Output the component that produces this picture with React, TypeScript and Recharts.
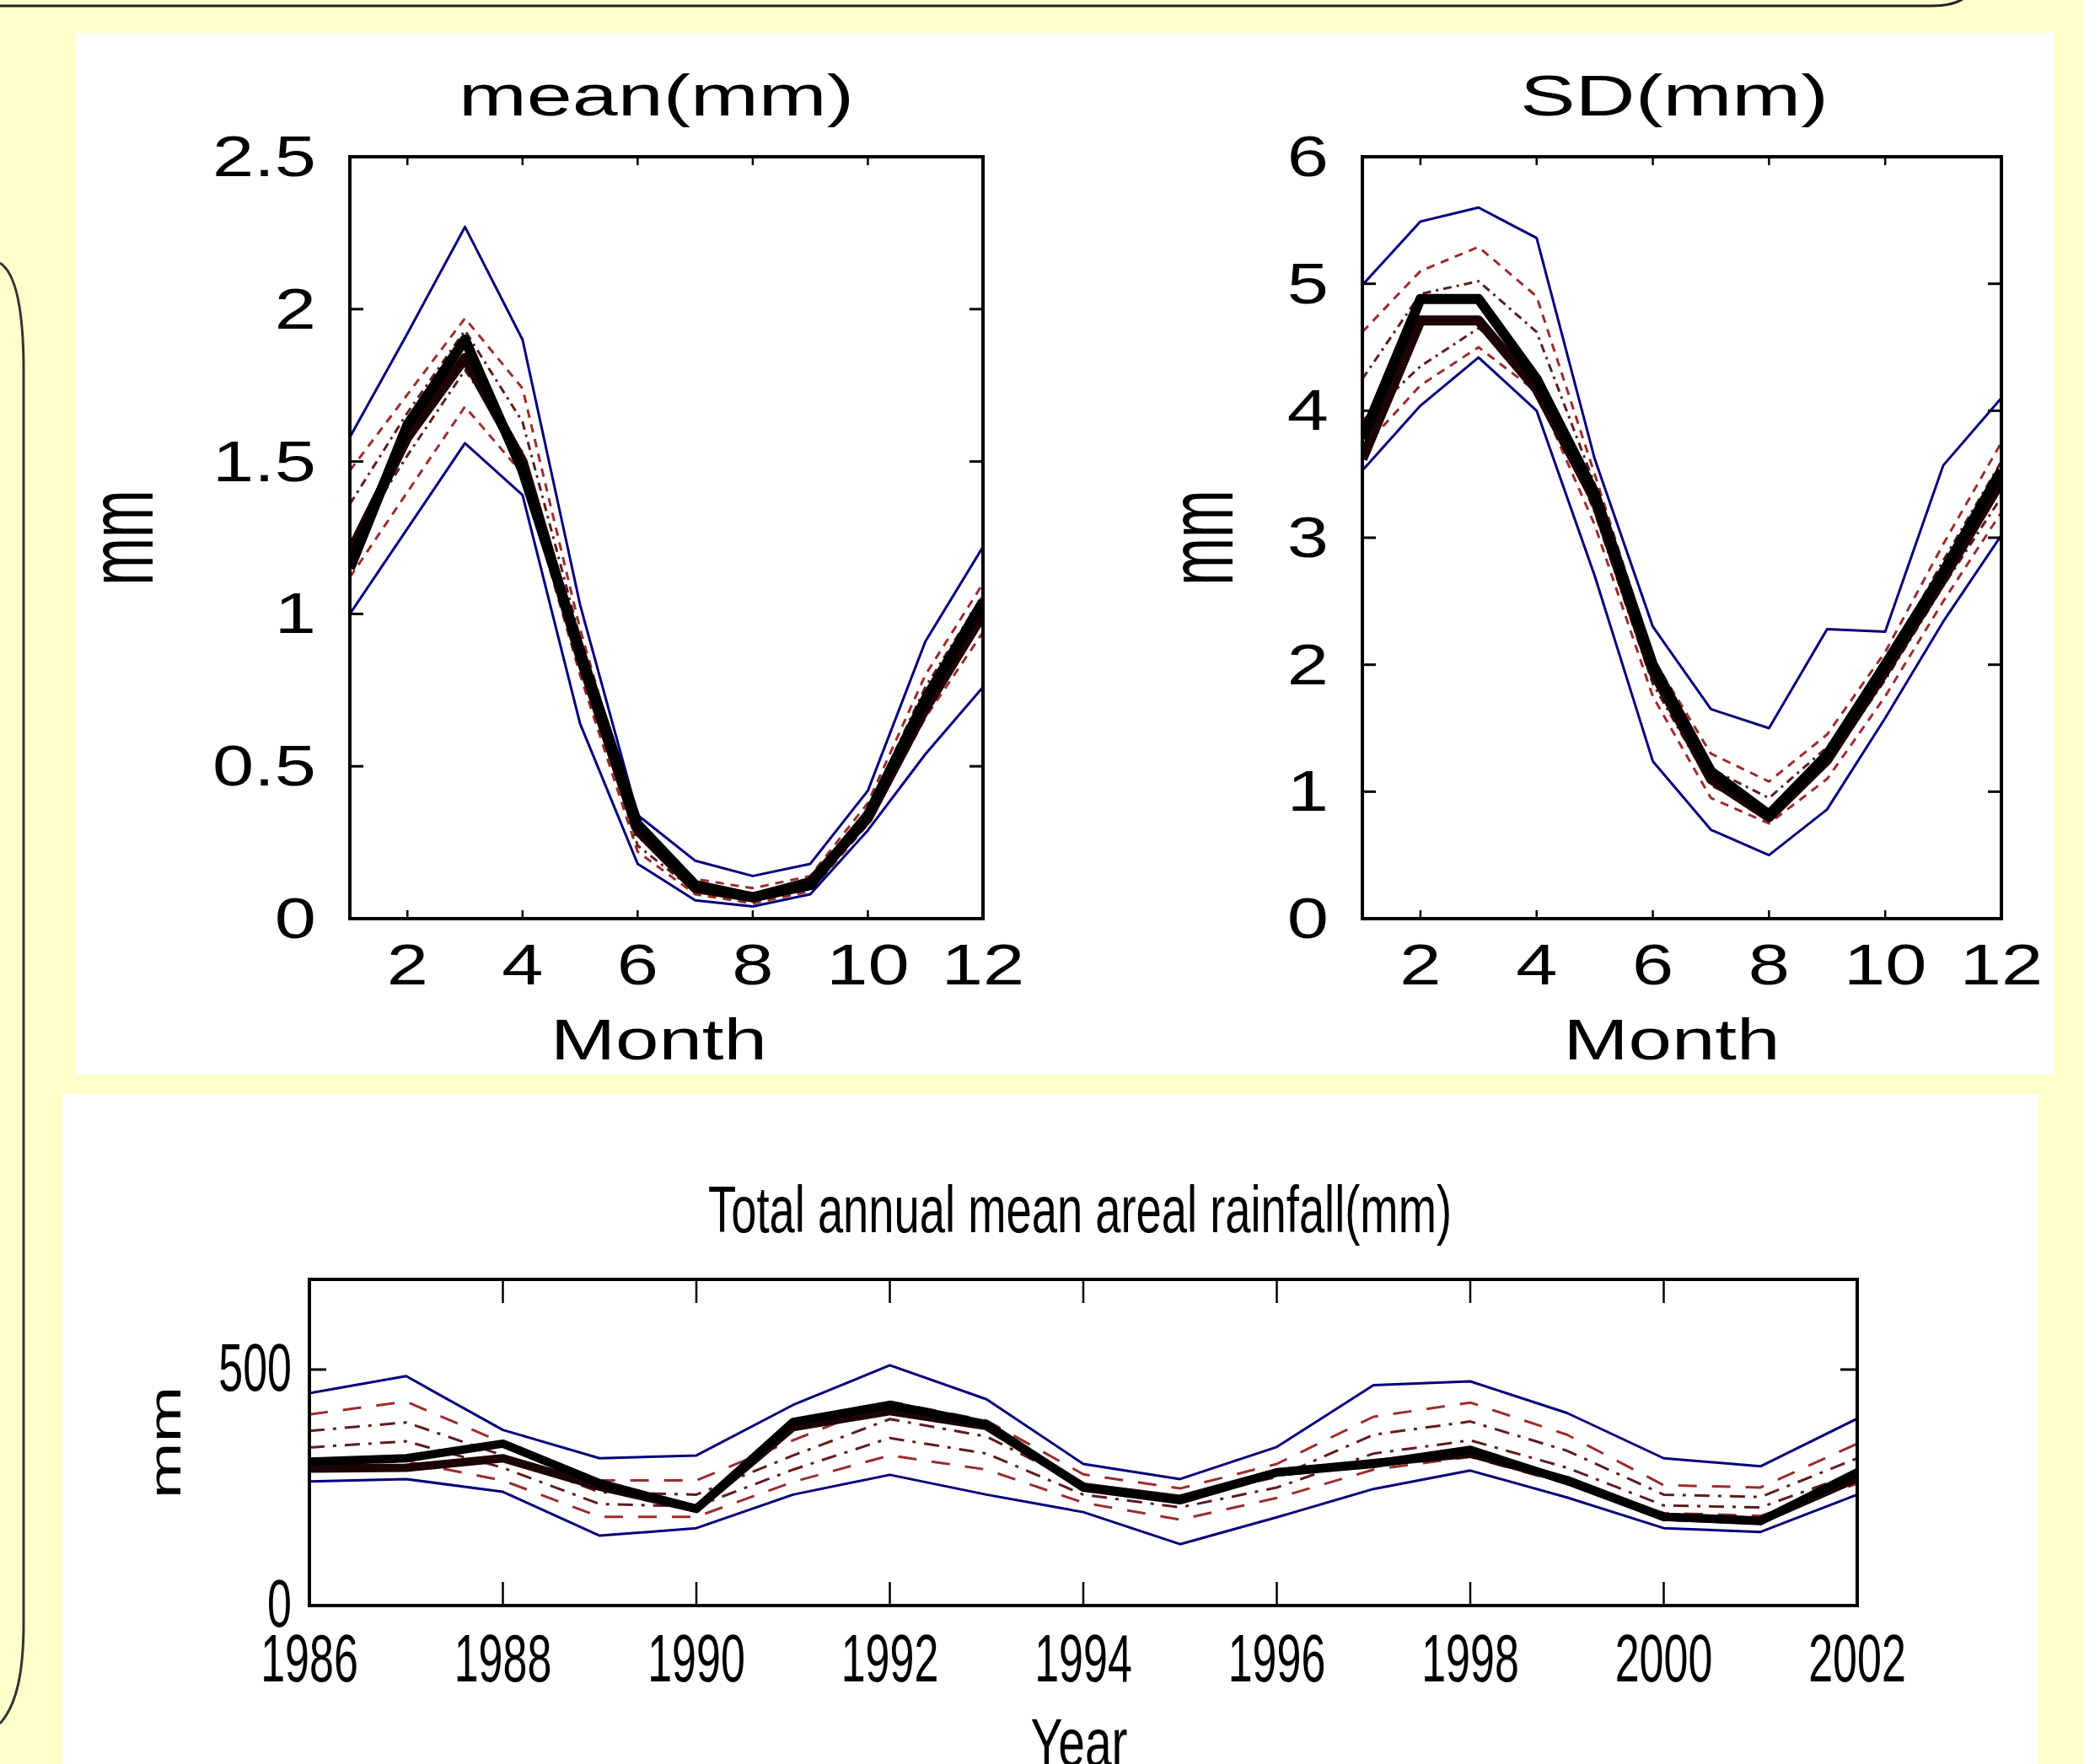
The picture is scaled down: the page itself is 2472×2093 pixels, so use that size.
import { Label, Line, LineChart, XAxis, YAxis } from 'recharts';

const FONT = '"Liberation Sans", Arial, Helvetica, sans-serif';
const NAVY = '#00007a';
const DASH_RED = '#9b2d2d';
const DOT_RED = '#5e1c1c';

// monthly mean (mm): ensemble envelope, percentiles, simulated and observed
const MONTHS = [1, 2, 3, 4, 5, 6, 7, 8, 9, 10, 11, 12];
const MEAN_MAX = [1.58, 1.92, 2.27, 1.9, 1.03, 0.34, 0.19, 0.14, 0.18, 0.42, 0.91, 1.22];
const MEAN_P95 = [1.47, 1.72, 1.97, 1.74, 0.95, 0.29, 0.13, 0.1, 0.14, 0.38, 0.8, 1.1];
const MEAN_P75 = [1.36, 1.66, 1.93, 1.63, 0.92, 0.27, 0.11, 0.08, 0.12, 0.36, 0.76, 1.06];
const MEAN_P25 = [1.22, 1.52, 1.8, 1.53, 0.85, 0.24, 0.09, 0.06, 0.1, 0.33, 0.71, 1.0];
const MEAN_P5 = [1.12, 1.4, 1.68, 1.46, 0.8, 0.22, 0.08, 0.05, 0.09, 0.31, 0.66, 0.94];
const MEAN_MIN = [1.0, 1.28, 1.56, 1.39, 0.64, 0.18, 0.06, 0.04, 0.08, 0.29, 0.54, 0.76];
const MEAN_SIM = [1.2, 1.58, 1.84, 1.5, 0.86, 0.29, 0.1, 0.07, 0.12, 0.33, 0.69, 1.0];
const MEAN_OBS = [1.15, 1.62, 1.9, 1.47, 0.88, 0.31, 0.11, 0.07, 0.11, 0.34, 0.72, 1.04];

// monthly standard deviation (mm)
const SD_MAX = [4.99, 5.49, 5.6, 5.36, 3.62, 2.3, 1.65, 1.5, 2.28, 2.26, 3.57, 4.1];
const SD_P95 = [4.62, 5.1, 5.29, 4.9, 3.5, 2.05, 1.3, 1.08, 1.45, 2.1, 2.95, 3.75];
const SD_P75 = [4.25, 4.92, 5.02, 4.62, 3.42, 1.95, 1.18, 0.95, 1.35, 2.0, 2.82, 3.6];
const SD_P25 = [3.92, 4.35, 4.65, 4.3, 3.2, 1.85, 1.05, 0.82, 1.22, 1.88, 2.62, 3.32];
const SD_P5 = [3.7, 4.2, 4.5, 4.15, 3.1, 1.75, 0.95, 0.75, 1.1, 1.75, 2.5, 3.2];
const SD_MIN = [3.53, 4.04, 4.42, 4.0, 2.7, 1.24, 0.7, 0.5, 0.86, 1.58, 2.34, 3.02];
const SD_SIM = [3.62, 4.71, 4.71, 4.17, 3.3, 1.95, 1.1, 0.8, 1.25, 1.95, 2.68, 3.45];
const SD_OBS = [3.78, 4.88, 4.88, 4.25, 3.35, 2.0, 1.16, 0.82, 1.29, 2.0, 2.73, 3.53];

// total annual mean areal rainfall (mm)
const YEARS = [1986, 1987, 1988, 1989, 1990, 1991, 1992, 1993, 1994, 1995, 1996, 1997, 1998, 1999, 2000, 2001, 2002];
const ANN_MAX = [450, 486, 372, 312, 318, 425, 509, 437, 300, 268, 336, 467, 475, 408, 312, 295, 396];
const ANN_P95 = [405, 432, 345, 265, 265, 350, 432, 392, 278, 248, 300, 400, 430, 362, 255, 250, 343];
const ANN_P75 = [370, 388, 318, 240, 235, 318, 395, 358, 255, 228, 272, 362, 390, 328, 235, 230, 312];
const ANN_P25 = [335, 348, 292, 215, 210, 288, 355, 322, 235, 208, 250, 322, 350, 292, 212, 208, 282];
const ANN_P5 = [300, 305, 265, 188, 188, 262, 318, 288, 218, 182, 228, 288, 315, 258, 196, 190, 258];
const ANN_MIN = [263, 268, 241, 148, 164, 235, 277, 235, 198, 130, 187, 247, 286, 229, 164, 156, 235];
const ANN_SIM = [290, 292, 312, 252, 205, 378, 412, 380, 252, 226, 282, 302, 322, 266, 188, 180, 270];
const ANN_OBS = [305, 312, 343, 259, 205, 389, 425, 384, 250, 223, 282, 300, 330, 264, 188, 179, 282];

const MONTH_TICKS = [2, 4, 6, 8, 10, 12];
const MEAN_TICKS = [0, 0.5, 1, 1.5, 2, 2.5];
const SD_TICKS = [0, 1, 2, 3, 4, 5, 6];
const YEAR_TICKS = [1986, 1988, 1990, 1992, 1994, 1996, 1998, 2000, 2002];
const ANN_TICKS = [0, 500];

type Row = Record<string, number>;

const rows = (xs: number[], s: Record<string, number[]>): Row[] =>
  xs.map((x, i) => {
    const r: Row = { x };
    Object.keys(s).forEach(k => (r[k] = s[k][i]));
    return r;
  });

const meanData = rows(MONTHS, { max: MEAN_MAX, p95: MEAN_P95, p75: MEAN_P75, p25: MEAN_P25, p5: MEAN_P5, min: MEAN_MIN, sim: MEAN_SIM, obs: MEAN_OBS });
const sdData = rows(MONTHS, { max: SD_MAX, p95: SD_P95, p75: SD_P75, p25: SD_P25, p5: SD_P5, min: SD_MIN, sim: SD_SIM, obs: SD_OBS });
const annData = rows(YEARS, { max: ANN_MAX, p95: ANN_P95, p75: ANN_P75, p25: ANN_P25, p5: ANN_P5, min: ANN_MIN, sim: ANN_SIM, obs: ANN_OBS });

const SERIES = [
  { key: 'p95', stroke: DASH_RED, kind: 'dash' },
  { key: 'p5', stroke: DASH_RED, kind: 'dash' },
  { key: 'p75', stroke: DOT_RED, kind: 'dashdot' },
  { key: 'p25', stroke: DOT_RED, kind: 'dashdot' },
  { key: 'max', stroke: NAVY, kind: 'solid' },
  { key: 'min', stroke: NAVY, kind: 'solid' },
  { key: 'sim', stroke: '#1c0404', kind: 'thick' },
  { key: 'obs', stroke: '#000000', kind: 'thick' },
];

interface PanelCfg {
  left: number;
  top: number;
  width: number;
  height: number;
  margin: { top: number; right: number; bottom: number; left: number }; // to the plot box
  xDomain: [number, number];
  yDomain: [number, number];
  xTicks: number[];
  yTicks: number[];
  xTickLen: number;
  yTickLen: number;
  font: number;
  sx: number; // horizontal stretch of the picture
  xTickBase: number;
  yTickGap: number;
  yTickBase: number;
  title: string;
  titleLen: number;
  titleFont: number;
  titleBase: number;
  titleDx: number;
  xLabel: string;
  xLabelLen: number;
  xLabelBase: number;
  xLabelDx: number;
  yLabelDx: number;
  yLabelSx: number;
  thin: number;
  thick: number;
  dash: string;
  dashDot: string;
}

const Panel = ({ cfg, data }: { cfg: PanelCfg; data: Row[] }) => {
  const axisLine = { stroke: '#000', strokeWidth: 4, strokeLinecap: 'square' as const };
  const txt = { fontFamily: FONT, fill: '#000' };
  // axes are 1px thick, so take that off the margins
  const m = cfg.margin;
  const margin = { top: m.top - 1, right: m.right - 1, bottom: m.bottom - 1, left: m.left - 1 };

  const bottomTick = (p: any) => (
    <g>
      <line x1={p.x} x2={p.x} y1={p.y} y2={p.y - cfg.xTickLen} stroke="#000" strokeWidth={2.5} />
      <text transform={`translate(${p.x},${p.y + cfg.xTickBase}) scale(${cfg.sx},1)`} textAnchor="middle" fontSize={cfg.font} {...txt}>
        {p.payload.value}
      </text>
    </g>
  );
  const topTick = (p: any) => (
    <line x1={p.x} x2={p.x} y1={p.y} y2={p.y + cfg.xTickLen} stroke="#000" strokeWidth={2.5} />
  );
  const leftTick = (p: any) => (
    <g>
      <line x1={p.x} x2={p.x + cfg.yTickLen} y1={p.y} y2={p.y} stroke="#000" strokeWidth={3} />
      <text transform={`translate(${p.x - cfg.yTickGap},${p.y + cfg.yTickBase}) scale(${cfg.sx},1)`} textAnchor="end" fontSize={cfg.font} {...txt}>
        {p.payload.value}
      </text>
    </g>
  );
  const rightTick = (p: any) => (
    <line x1={p.x} x2={p.x - cfg.yTickLen} y1={p.y} y2={p.y} stroke="#000" strokeWidth={3} />
  );

  const dashFor = (kind: string) => (kind === 'dash' ? cfg.dash : kind === 'dashdot' ? cfg.dashDot : undefined);
  const widthFor = (kind: string) => (kind === 'thick' ? cfg.thick : cfg.thin);

  return (
    <div style={{ position: 'absolute', left: cfg.left, top: cfg.top }}>
      <LineChart width={cfg.width} height={cfg.height} data={data} margin={margin}>
        <XAxis xAxisId="b" dataKey="x" type="number" domain={cfg.xDomain} ticks={cfg.xTicks} interval={0}
          height={1} tickSize={0} tickMargin={0} tickLine={false} axisLine={axisLine} tick={bottomTick} allowDataOverflow>
          <Label
            content={(props: any) => {
              const vb = props.viewBox;
              return (
                <text x={vb.x + vb.width / 2 + cfg.xLabelDx} y={vb.y + cfg.xLabelBase} textAnchor="middle"
                  fontSize={cfg.font} textLength={cfg.xLabelLen} lengthAdjust="spacingAndGlyphs" {...txt}>
                  {cfg.xLabel}
                </text>
              );
            }}
          />
        </XAxis>
        <XAxis xAxisId="t" orientation="top" dataKey="x" type="number" domain={cfg.xDomain} ticks={cfg.xTicks} interval={0}
          height={1} tickSize={0} tickMargin={0} tickLine={false} axisLine={axisLine} tick={topTick} allowDataOverflow>
          <Label
            content={(props: any) => {
              const vb = props.viewBox;
              return (
                <text x={vb.x + vb.width / 2 + cfg.titleDx} y={vb.y + vb.height - cfg.titleBase} textAnchor="middle"
                  fontSize={cfg.titleFont} textLength={cfg.titleLen} lengthAdjust="spacingAndGlyphs" {...txt}>
                  {cfg.title}
                </text>
              );
            }}
          />
        </XAxis>
        <YAxis yAxisId="l" type="number" domain={cfg.yDomain} ticks={cfg.yTicks} interval={0}
          width={1} tickSize={0} tickMargin={0} tickLine={false} axisLine={axisLine} tick={leftTick} allowDataOverflow>
          <Label
            content={(props: any) => {
              const vb = props.viewBox;
              const cx = vb.x + vb.width + cfg.yLabelDx;
              const cy = vb.y + vb.height / 2;
              return (
                <text transform={`translate(${cx},${cy}) scale(${cfg.yLabelSx},1) rotate(-90)`} x={0} y={cfg.font * 0.27}
                  textAnchor="middle" fontSize={cfg.font} {...txt}>
                  mm
                </text>
              );
            }}
          />
        </YAxis>
        <YAxis yAxisId="r" orientation="right" type="number" domain={cfg.yDomain} ticks={cfg.yTicks} interval={0}
          width={1} tickSize={0} tickMargin={0} tickLine={false} axisLine={axisLine} tick={rightTick} allowDataOverflow />
        {SERIES.map(s => (
          <Line
            key={s.key}
            xAxisId="b"
            yAxisId="l"
            type="linear"
            dataKey={s.key}
            stroke={s.stroke}
            strokeWidth={widthFor(s.kind)}
            strokeDasharray={dashFor(s.kind)}
            strokeLinejoin="round"
            dot={false}
            activeDot={false}
            isAnimationActive={false}
          />
        ))}
      </LineChart>
    </div>
  );
};

const TOP_COMMON = {
  top: 39,
  height: 1236,
  xDomain: [1, 12] as [number, number],
  xTicks: MONTH_TICKS,
  xTickLen: 10,
  yTickLen: 16,
  font: 68,
  sx: 1.3,
  xTickBase: 78,
  yTickGap: 40,
  yTickBase: 23,
  titleFont: 68,
  titleBase: 49,
  xLabel: 'Month',
  xLabelLen: 257,
  xLabelBase: 167,
  yLabelSx: 1.6,
  thin: 3,
  thick: 12,
  dash: '10 8',
  dashDot: '10 6 3 6',
};

const MEAN_CFG: PanelCfg = {
  ...TOP_COMMON,
  left: 90,
  width: 1190,
  margin: { top: 147, right: 114, bottom: 185, left: 325 },
  yDomain: [0, 2.5],
  yTicks: MEAN_TICKS,
  title: 'mean(mm)',
  titleLen: 469,
  titleDx: -12,
  xLabelDx: -9,
  yLabelDx: -263,
};

const SD_CFG: PanelCfg = {
  ...TOP_COMMON,
  left: 1290,
  width: 1146,
  margin: { top: 147, right: 62, bottom: 185, left: 326 },
  yDomain: [0, 6],
  yTicks: SD_TICKS,
  title: 'SD(mm)',
  titleLen: 366,
  titleDx: -9,
  xLabelDx: -12,
  yLabelDx: -183,
};

const ANN_CFG: PanelCfg = {
  left: 74,
  top: 1298,
  width: 2344,
  height: 795,
  margin: { top: 220, right: 215, bottom: 188, left: 293 },
  xDomain: [1986, 2002],
  yDomain: [0, 691],
  xTicks: YEAR_TICKS,
  yTicks: ANN_TICKS,
  xTickLen: 28,
  yTickLen: 20,
  font: 80,
  sx: 0.65,
  xTickBase: 90,
  yTickGap: 21,
  yTickBase: 25,
  title: 'Total annual mean areal rainfall(mm)',
  titleLen: 882,
  titleFont: 78,
  titleBase: 56,
  titleDx: -4,
  xLabel: 'Year',
  xLabelLen: 115,
  xLabelBase: 190,
  xLabelDx: -5,
  yLabelDx: -167,
  yLabelSx: 0.66,
  thin: 3,
  thick: 10,
  dash: '22 18',
  dashDot: '18 10 4 10',
};

export default function App() {
  return (
    <div style={{ position: 'absolute', left: 0, top: 0, width: 2472, height: 2093, background: '#ffffcc', overflow: 'hidden' }}>
      <div style={{ position: 'absolute', left: 90, top: 39, width: 2346, height: 1236, background: '#ffffff' }} />
      <div style={{ position: 'absolute', left: 74, top: 1298, width: 2344, height: 795, background: '#ffffff' }} />
      <svg width={2472} height={2093} style={{ position: 'absolute', left: 0, top: 0 }}>
        <path d="M0,7 L2290,7 Q2322,7 2334,-6" fill="none" stroke="#222" strokeWidth={3} />
        <path d="M0,312 C20,325 28,370 28,440 L28,1925 C28,1990 18,2025 0,2045" fill="none" stroke="#333" strokeWidth={3} />
      </svg>
      <Panel cfg={MEAN_CFG} data={meanData} />
      <Panel cfg={SD_CFG} data={sdData} />
      <Panel cfg={ANN_CFG} data={annData} />
    </div>
  );
}
